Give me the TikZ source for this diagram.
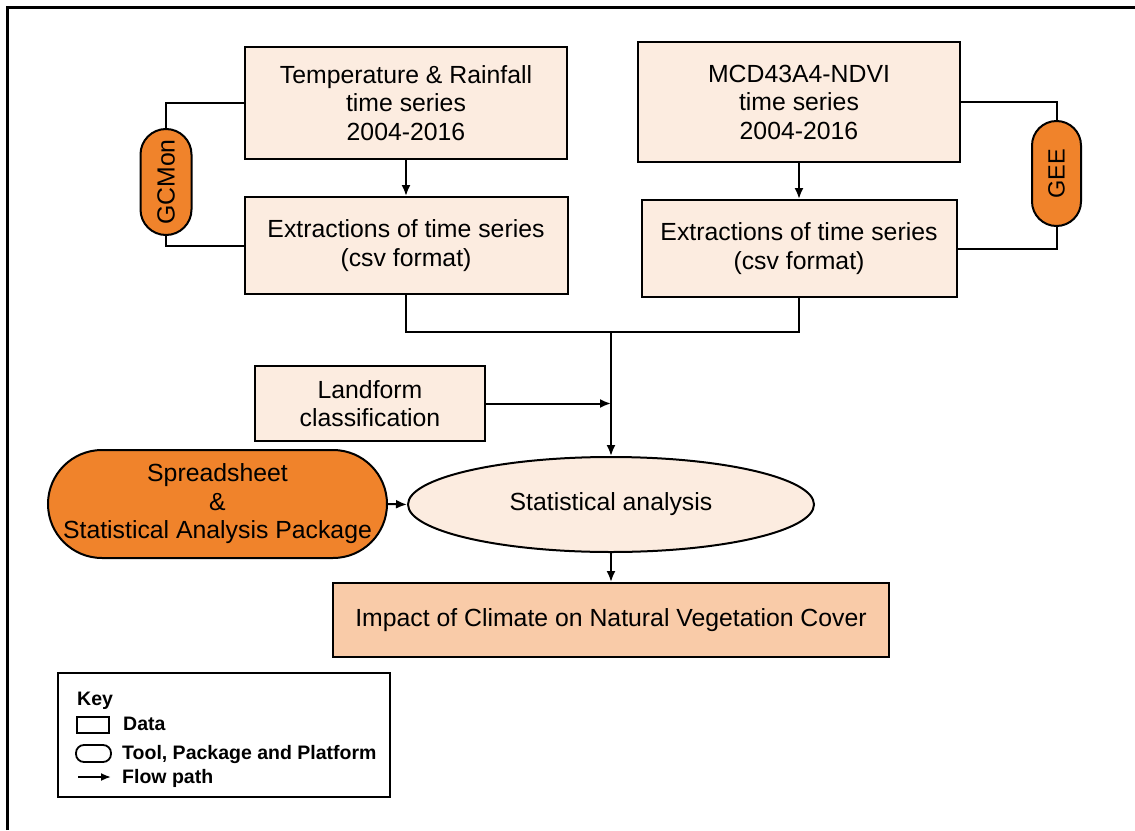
\documentclass[tikz,border=0pt]{standalone}
\usepackage{fontspec}
\setmainfont{Liberation Sans}
\usetikzlibrary{shapes.geometric,arrows.meta}
\definecolor{datafill}{HTML}{FCECE0}
\definecolor{resultfill}{HTML}{F9CBA8}
\definecolor{toolfill}{HTML}{F0832B}
\begin{document}
\begin{tikzpicture}[x=1pt,y=-1pt,
  every node/.style={font=\fontsize{24.8}{28.5}\selectfont, align=center, inner sep=0pt},
  databox/.style={draw=black, line width=2pt, fill=datafill, rectangle},
  toolpill/.style={draw=black, line width=2pt, fill=toolfill, rectangle},
  conn/.style={draw=black, line width=2pt},
  flow/.style={conn, -{Latex[length=11pt,width=9pt]}},
  keytext/.style={font=\fontsize{19.5}{22}\selectfont\bfseries, anchor=base west}
]
\useasboundingbox (0,0) rectangle (1135,830);
% frame along the top and left
\draw[line width=3.5pt] (7.5,830) -- (7.5,7.5) -- (1135,7.5);

% data boxes
\node[databox, minimum width=322, minimum height=112] (tr) at (406,103)
  {Temperature \& Rainfall\\time series\\2004-2016};
\node[databox, minimum width=322, minimum height=120] (nd) at (799,102)
  {MCD43A4-NDVI\\time series\\2004-2016};
\node[databox, minimum width=323, minimum height=97] (ex1) at (406,245.5)
  {Extractions of time series\\(csv format)};
\node[databox, minimum width=315, minimum height=97] (ex2) at (799,248.5)
  {Extractions of time series\\(csv format)};
\node[databox, minimum width=230, minimum height=75] (lf) at (370,403.5)
  {Landform\\classification};
\node[draw=black, line width=2pt, fill=datafill, ellipse, minimum width=406, minimum height=95] (sa) at (611,504.5)
  {Statistical analysis};
\node[draw=black, line width=2pt, fill=resultfill, minimum width=556, minimum height=74] (imp) at (611,620)
  {Impact of Climate on Natural Vegetation Cover};

% tools and platforms
\node[toolpill, rounded corners=25.5pt, minimum width=51, minimum height=106] (gc) at (166,182) {};
\node[rotate=90] at (gc.center) {GCMon};
\node[toolpill, rounded corners=24.5pt, minimum width=49, minimum height=105] (gee) at (1056.5,173.5) {};
\node[rotate=90, font=\fontsize{23.5}{27}\selectfont] at (gee.center) {GEE};
\node[toolpill, rounded corners=54pt, minimum width=339, minimum height=108] (sp) at (217.5,504)
  {Spreadsheet\\\&\\Statistical Analysis Package};

% tool links
\draw[conn] (tr.west) -| (gc.north);
\draw[conn] (ex1.west) -| (gc.south);
\draw[conn] (nd.east) -| (gee.north);
\draw[conn] (ex2.east) -| (gee.south);

% flow paths
\coordinate (mj) at (611,332);
\draw[flow] (tr.south) -- (ex1.north);
\draw[flow] (nd.south) -- (ex2.north);
\draw[conn] (ex1.south) |- (mj) -| (ex2.south);
\draw[flow] (mj) -- (sa.north);
\draw[flow] (lf.east) -- (lf.east -| mj);
\draw[flow] (sp.east) -- (sa.west);
\draw[flow] (sa.south) -- (imp.north);

% key
\node[draw=black, line width=2pt, minimum width=332, minimum height=124] (key) at (224,735) {};
\node[keytext] (kt) at (77,705) {Key};
\node[draw=black, line width=1.8pt, minimum width=32, minimum height=16] (kd) at (93,725) {};
\node[keytext] (kdt) at (123,730) {Data};
\node[draw=black, line width=1.8pt, rounded corners=8pt, minimum width=35, minimum height=17] (kp) at (93.5,753.5) {};
\node[keytext] (kpt) at (122,759) {Tool, Package and Platform};
\coordinate (ka) at (78,777);
\coordinate (kb) at (111,777);
\draw[line width=1.8pt, -{Latex[length=10pt,width=8pt]}] (ka) -- (kb);
\node[keytext] (kat) at (122,783) {Flow path};
\end{tikzpicture}
\end{document}
